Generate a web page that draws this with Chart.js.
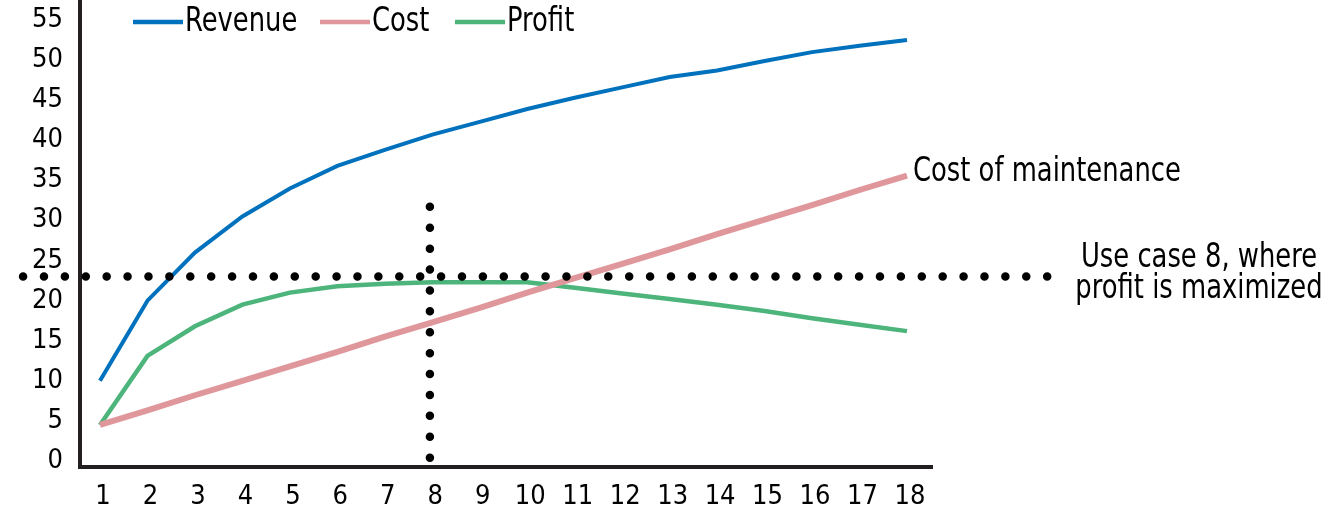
<!DOCTYPE html>
<html>
<head>
<meta charset="utf-8">
<script src="https://cdn.jsdelivr.net/npm/chart.js@4"></script>
<style>
  html, body { margin: 0; padding: 0; background: #fff; }
  #wrap { width: 1327px; height: 513px; position: relative; }
</style>
</head>
<body>
<div id="wrap"><canvas id="profitChart"></canvas></div>
<script>
const useCases = [1, 2, 3, 4, 5, 6, 7, 8, 9, 10, 11, 12, 13, 14, 15, 16, 17, 18];
const revenue = [10, 20, 26, 30.5, 34, 36.8, 38.8, 40.7, 42.3, 43.9, 45.3, 46.6, 47.9, 48.7, 49.9, 51.0, 51.8, 52.5];
const cost = [4.5, 6.3, 8.2, 10.0, 11.8, 13.6, 15.5, 17.3, 19.1, 21.0, 22.8, 24.6, 26.4, 28.3, 30.1, 31.9, 33.8, 35.6];
const profit = [4.5, 13.1, 16.8, 19.5, 21.0, 21.8, 22.1, 22.3, 22.3, 22.3, 21.6, 20.9, 20.2, 19.5, 18.7, 17.8, 17.0, 16.2];
const yTicks = [0, 5, 10, 15, 20, 25, 30, 35, 40, 45, 50, 55];

// marker lines: best use case and its profit level
const bestCase = 8;
const maxProfitLevel = 23;

const FONT = '"Liberation Sans Narrow", "DejaVu Sans Condensed", "Roboto Condensed", sans-serif';
const INK = '#231f20';

function pts(values) {
    return useCases.map((c, i) => ({ x: c, y: values[i] }));
}

// the original face is narrow, squeeze the text a little
function narrowText(ctx, text, x, y, align) {
    const sx = 0.87;
    ctx.save();
    ctx.scale(sx, 1);
    ctx.textAlign = align;
    ctx.fillText(text, x / sx, y);
    ctx.restore();
}

const notes = {
    id: 'notes',
    afterDatasetsDraw(chart) {
        const ctx = chart.ctx;
        const xs = chart.scales.x, ys = chart.scales.y;
        ctx.save();
        ctx.fillStyle = '#000';
        ctx.textBaseline = 'middle';
        ctx.font = '33px ' + FONT;

        // legend
        const legendX = [133, 320, 455];
        chart.data.datasets.slice(2).forEach((ds, i) => {
            ctx.strokeStyle = ds.borderColor;
            ctx.lineWidth = 4.5;
            ctx.beginPath();
            ctx.moveTo(legendX[i], 22);
            ctx.lineTo(legendX[i] + 50, 22);
            ctx.stroke();
            narrowText(ctx, ds.label, legendX[i] + 52, 22, 'left');
        });

        // line labels
        const last = useCases.length - 1;
        narrowText(ctx, 'Cost of maintenance', xs.getPixelForValue(useCases[last]) + 6, ys.getPixelForValue(cost[last]) - 3, 'left');

        const yLine = ys.getPixelForValue(maxProfitLevel);
        narrowText(ctx, 'Use case 8, where', 1199, yLine - 18, 'center');
        narrowText(ctx, 'profit is maximized', 1199, yLine + 13, 'center');
        ctx.restore();
    }
};

const dotted = {
    borderColor: '#000',
    borderWidth: 8.5,
    borderDash: [0, 20.9],
    borderCapStyle: 'round',
    pointRadius: 0,
    clip: false,
    order: 0
};

new Chart(document.getElementById('profitChart'), {
    type: 'line',
    data: {
        datasets: [
            Object.assign({ label: 'level', data: [{ x: -0.62, y: maxProfitLevel }, { x: 21.38, y: maxProfitLevel }] }, dotted),
            Object.assign({ label: 'case', data: [{ x: bestCase - 0.05, y: 31.7 }, { x: bestCase - 0.05, y: 0.3 }] }, dotted),
            { label: 'Revenue', data: pts(revenue), borderColor: '#0071bc', borderWidth: 4, pointRadius: 0, order: 3 },
            { label: 'Cost', data: pts(cost), borderColor: '#e0979b', borderWidth: 6, pointRadius: 0, order: 1 },
            { label: 'Profit', data: pts(profit), borderColor: '#4db57b', borderWidth: 4.5, pointRadius: 0, order: 2 }
        ]
    },
    options: {
        responsive: true,
        maintainAspectRatio: false,
        animation: false,
        layout: { padding: { left: 0, right: 395, top: 0, bottom: 0 } },
        elements: { line: { tension: 0 } },
        plugins: { legend: { display: false }, tooltip: { enabled: false } },
        scales: {
            x: {
                type: 'linear',
                min: 0.579,
                max: 18.527,
                afterBuildTicks: s => { s.ticks = useCases.map(v => ({ value: v })); },
                afterFit: s => { s.height = 46; s.paddingLeft = 0; s.paddingRight = 0; },
                grid: { display: false },
                border: { color: INK, width: 4 },
                ticks: { color: '#000', font: { family: FONT, size: 27 }, padding: 6, labelOffset: 3, maxRotation: 0, autoSkip: false }
            },
            y: {
                min: -0.75,
                max: 57.5,
                afterBuildTicks: s => { s.ticks = yTicks.map(v => ({ value: v })); },
                afterFit: s => { s.width = 80; s.paddingTop = 0; s.paddingBottom = 0; },
                grid: { display: false },
                border: { color: INK, width: 4 },
                ticks: { color: '#000', font: { family: FONT, size: 27 }, padding: 9 }
            }
        }
    },
    plugins: [notes]
});
</script>
</body>
</html>
